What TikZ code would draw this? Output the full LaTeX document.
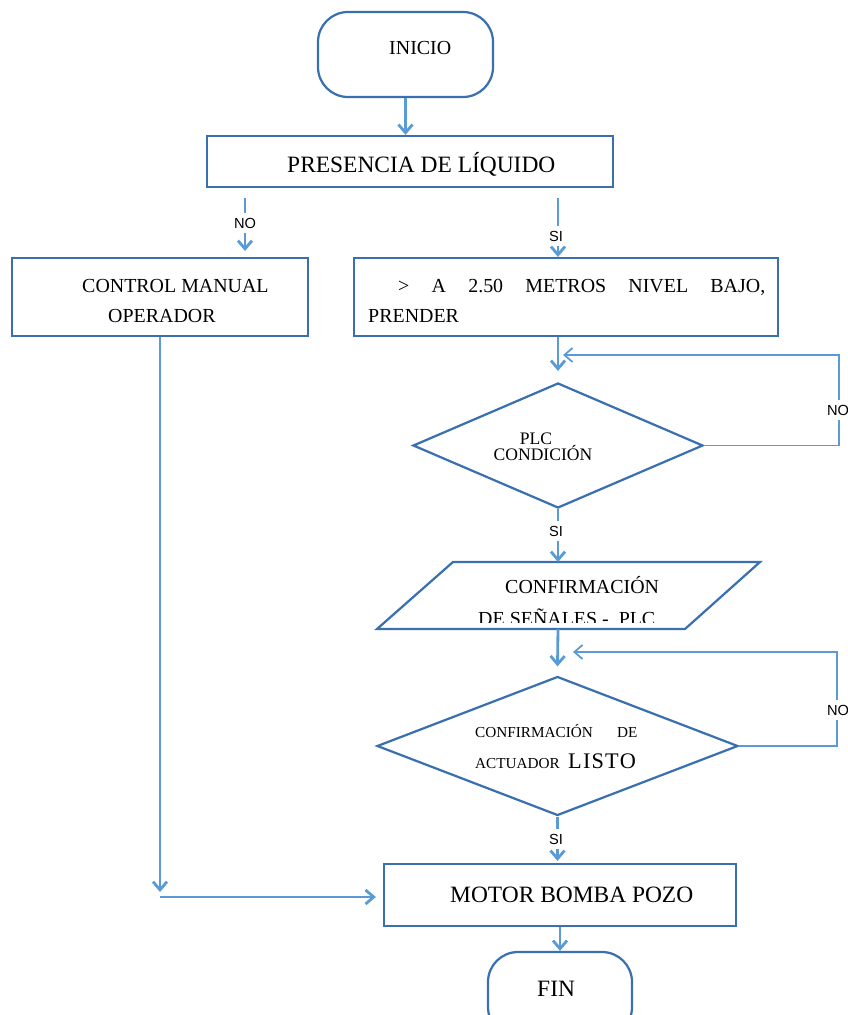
\documentclass[tikz,border=0pt]{standalone}
\usepackage{fontspec}
\setmainfont{Liberation Serif}
\newfontfamily\lsans{Liberation Sans}
\usetikzlibrary{arrows.meta,shapes.geometric}
\definecolor{boxblue}{RGB}{58,112,176}
\definecolor{arrblue}{RGB}{91,155,213}
\tikzset{
  shapebox/.style={draw=boxblue, line width=1.9pt, inner sep=0pt, rectangle},
  termbox/.style={shapebox, rounded corners=0.9cm, minimum width=5.25cm, minimum height=2.55cm},
  decbox/.style={draw=boxblue, line width=1.9pt, inner sep=0pt, diamond},
  conn/.style={draw=arrblue, line width=2.4pt, -{Straight Barb[length=7pt,width=12pt]}},
  loopline/.style={draw=arrblue, line width=1.5pt, -{Straight Barb[length=7pt,width=12pt]}},
  txt/.style={inner sep=0pt, anchor=base west, font=\fontsize{17}{20}\selectfont},
  bigtxt/.style={txt, font=\fontsize{20}{24}\selectfont},
  smalltxt/.style={txt, font=\fontsize{13}{16}\selectfont},
  lbl/.style={font=\lsans\fontsize{12.5}{14}\selectfont, fill=white, inner sep=4pt, anchor=base},
}
\begin{document}
\begin{tikzpicture}[x=0.03cm,y=-0.03cm]
\clip (0,0) rectangle (848,1015);
\fill[white] (0,0) rectangle (848,1015);

% shapes
\node[termbox] (inicio) at (405.5,54.5) {};
\node[shapebox, minimum width=12.18cm, minimum height=1.53cm] (pres) at (410,161.5) {};
\node[shapebox, minimum width=8.88cm, minimum height=2.34cm] (ctrl) at (160,297) {};
\node[shapebox, minimum width=12.72cm, minimum height=2.34cm] (nivel) at (566,297) {};
\node[decbox, minimum width=8.7cm, minimum height=3.75cm] (d1) at (558,445.5) {};
\coordinate (parTL) at (453,562);
\coordinate (parTR) at (760,562);
\coordinate (parBR) at (685,629);
\coordinate (parBL) at (377,629);
\coordinate (parN) at (558,562);
\coordinate (parS) at (558,629);
\draw[draw=boxblue, line width=1.9pt] (parTL) -- (parTR) -- (parBR) -- (parBL) -- cycle;
\node[decbox, minimum width=10.83cm, minimum height=4.17cm] (d2) at (557.5,746) {};
\node[shapebox, minimum width=10.56cm, minimum height=1.86cm] (motor) at (560,895) {};
\node[termbox, minimum width=4.32cm] (fin) at (560,994.5) {};

% texts
\node[txt] (tInicio) at (389,55) {INICIO};
\node[bigtxt] (tPres) at (287,173) {PRESENCIA DE LÍQUIDO};
\node[txt] (tCtrl1) at (82,292) {CONTROL MANUAL};
\node[txt] (tCtrl2) at (108,322.7) {OPERADOR};
\node[txt] (tNiv1) at (398,292) {\makebox[11.01cm][l]{>\hfill A\hfill 2.50\hfill METROS\hfill NIVEL\hfill BAJO,}};
\node[txt] (tNiv2) at (368,322) {PRENDER};
\node[txt, anchor=base, font=\fontsize{15}{18}\selectfont] (tPlc1) at (536,444) {PLC};
\node[txt, anchor=base, font=\fontsize{15}{18}\selectfont] (tPlc2) at (543,460.7) {CONDICIÓN};
\node[txt] (tPar1) at (505,593) {CONFIRMACIÓN};
\begin{scope}
  \clip (470,600) rectangle (700,622.5);
  \node[txt] (tPar2) at (478,625) {DE SEÑALES -\ \ PLC};
\end{scope}
\node[smalltxt] (tAct1) at (475,737) {CONFIRMACIÓN};
\node[smalltxt] (tAct2) at (617,737) {DE};
\node[smalltxt] (tAct3) at (475,768) {ACTUADOR};
\node[txt, font=\fontsize{19}{22}\selectfont] (tAct4) at (568,768) {L\kern1pt I\kern1pt S\kern1pt T\kern1pt O};
\node[bigtxt] (tMotor) at (450,902) {MOTOR BOMBA POZO};
\node[bigtxt] (tFin) at (537,996) {FIN};

% connectors
\draw[conn] (inicio.south) -- (inicio.south |- pres.north);
\coordinate (noTop) at (245,198);
\coordinate (noEnd) at (245,251);
\draw[conn] (noTop) -- (noEnd);
\coordinate (siTop) at (558,198);
\draw[conn] (siTop) -- (siTop |- nivel.north);
\draw[conn] (nivel.south -| d1.north) -- ([yshift=0.33cm]d1.north);
\coordinate (loop1) at (839,355);
\draw[loopline] (d1.east) -| (loop1) -- ([xshift=0.15cm]loop1 -| d1.north);
\draw[conn] (d1.south) -- (d1.south |- parN);
\draw[conn] (parS) -- ([yshift=0.27cm]d2.north);
\coordinate (loop2) at (837,652);
\draw[loopline] (d2.east) -| (loop2) -- ([xshift=0.465cm]loop2 -| d2.north);
\draw[conn] (d2.south) -- ([yshift=0.06cm]d2.south |- motor.north);
\coordinate (cornerL) at (162,892);
\draw[conn] (ctrl.south) -- (ctrl.south |- cornerL);
\coordinate (hStart) at (160,897);
\draw[conn] (hStart) -- ([xshift=-0.21cm]hStart -| motor.west);
\draw[conn] (motor.south) -- (motor.south |- fin.north);

% labels
\node[lbl] (lNo1) at (245,228) {NO};
\node[lbl] (lSi1) at (556,241) {SI};
\node[lbl] (lNo2) at (838,415) {NO};
\node[lbl] (lSi2) at (556,536) {SI};
\node[lbl] (lNo3) at (838,715) {NO};
\node[lbl] (lSi3) at (556,844) {SI};
\end{tikzpicture}
\end{document}
